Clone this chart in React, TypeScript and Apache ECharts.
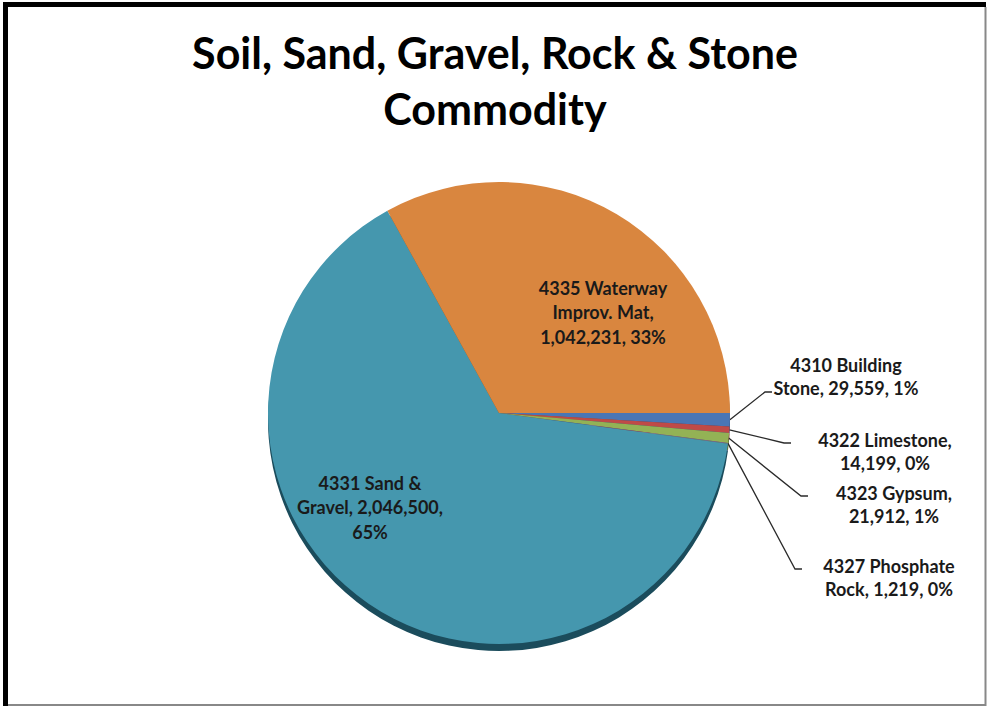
import React, { useEffect, useRef } from "react";
import * as echarts from "echarts";

// ---- data ----
const categories = [
  "4310 Building Stone",
  "4322 Limestone",
  "4323 Gypsum",
  "4327 Phosphate Rock",
  "4331 Sand & Gravel",
  "4335 Waterway Improv. Mat",
];
const tonnage = [29559, 14199, 21912, 1219, 2046500, 1042231];
// words after which the label text wraps
const wrapAfter = [[2], [2], [2], [2], [3, 5], [2, 4]];

// ---- styles / layout ----
const sliceColors = ["#4a76b5", "#bf4a47", "#93b255", "#7d60a0", "#4597ae", "#d9863f"];
const rimColors = ["#2b4a75", "#7a2a28", "#5d7432", "#4d3a66", "#1b4c5c", "#8a5222"];
const labelSpots = [
  { x: 846, y: 376, lx: 772, ly: 392, outside: true },
  { x: 885, y: 451, lx: 791, ly: 443, outside: true },
  { x: 894, y: 504, lx: 808, ly: 496, outside: true },
  { x: 889, y: 577, lx: 802, ly: 569, outside: true },
  { x: 370, y: 507, outside: false },
  { x: 603, y: 312, outside: false },
];
const CENTER = [499, 413];
const RADIUS = 231;
const RIM = 7;
const FONT = "Lato, 'Open Sans', sans-serif";

function wrapText(text: string, breaks: number[]) {
  const words = text.split(" ");
  const lines: string[] = [];
  let start = 0;
  for (const b of breaks) {
    lines.push(words.slice(start, b).join(" "));
    start = b;
  }
  lines.push(words.slice(start).join(" "));
  return lines.join("\n");
}

export default function App() {
  const ref = useRef<HTMLDivElement>(null);
  useEffect(() => {
    if (!ref.current) return;
    const chart = echarts.init(ref.current, undefined, { renderer: "svg" });

    const faceData = categories.map((name, i) => ({
      name,
      value: tonnage[i],
      itemStyle: { color: sliceColors[i] },
      label: {
        lineHeight: labelSpots[i].outside ? 23 : 24.5,
      },
      labelLine: { show: labelSpots[i].outside },
    }));
    const rimData = categories.map((name, i) => ({
      name,
      value: tonnage[i],
      itemStyle: { color: rimColors[i] },
    }));

    const option: any = {
      animation: false,
      backgroundColor: "#ffffff",
      title: {
        text: "Soil, Sand, Gravel, Rock & Stone\nCommodity",
        left: "center",
        top: 19,
        textStyle: {
          fontFamily: FONT,
          fontSize: 43,
          fontWeight: "bold",
          color: "#000000",
          lineHeight: 56,
        },
      },
      graphic: [
        { type: "line", shape: { x1: 5.5, y1: 2, x2: 5.5, y2: 706 }, style: { stroke: "#000", lineWidth: 5 } },
        { type: "line", shape: { x1: 3, y1: 4.5, x2: 986, y2: 4.5 }, style: { stroke: "#000", lineWidth: 5 } },
        { type: "line", shape: { x1: 985.5, y1: 7, x2: 985.5, y2: 706 }, style: { stroke: "#888", lineWidth: 2 } },
        { type: "line", shape: { x1: 8, y1: 705, x2: 986, y2: 705 }, style: { stroke: "#888", lineWidth: 2 } },
      ],
      series: [
        {
          type: "pie",
          name: "rim",
          z: 1,
          silent: true,
          clockwise: true,
          startAngle: 0,
          center: [CENTER[0], CENTER[1] + RIM],
          radius: RADIUS,
          label: { show: false },
          labelLine: { show: false },
          data: rimData,
        },
        {
          type: "pie",
          name: "commodity",
          z: 2,
          clockwise: true,
          startAngle: 0,
          center: CENTER,
          radius: RADIUS,
          avoidLabelOverlap: false,
          minShowLabelAngle: 0,
          label: {
            show: true,
            position: "outside",
            fontFamily: FONT,
            fontSize: 18,
            fontWeight: "bold",
            color: "#1a1a1a",
            lineHeight: 23,
            formatter: (p: any) => {
              const full = `${p.name}, ${Number(p.value).toLocaleString("en-US")}, ${Math.round(p.percent)}%`;
              return wrapText(full, wrapAfter[p.dataIndex]);
            },
          },
          labelLine: {
            show: true,
            lineStyle: { color: "#2a2a2a", width: 1.3 },
          },
          labelLayout: (params: any) => {
            const s = labelSpots[params.dataIndex];
            const res: any = {
              x: s.x,
              y: s.y,
              align: "center",
              verticalAlign: "middle",
            };
            if (s.outside) {
              const p0 =
                params.labelLinePoints && params.labelLinePoints[0]
                  ? params.labelLinePoints[0]
                  : [CENTER[0] + RADIUS, CENTER[1]];
              res.labelLinePoints = [p0, [s.lx! - 7, s.ly!], [s.lx!, s.ly!]];
            }
            return res;
          },
          data: faceData,
        },
      ],
    };
    chart.setOption(option);
    return () => chart.dispose();
  }, []);
  return (
    <div
      ref={ref}
      style={{ position: "fixed", left: 0, top: 0, width: 990, height: 710, background: "#fff" }}
    />
  );
}
